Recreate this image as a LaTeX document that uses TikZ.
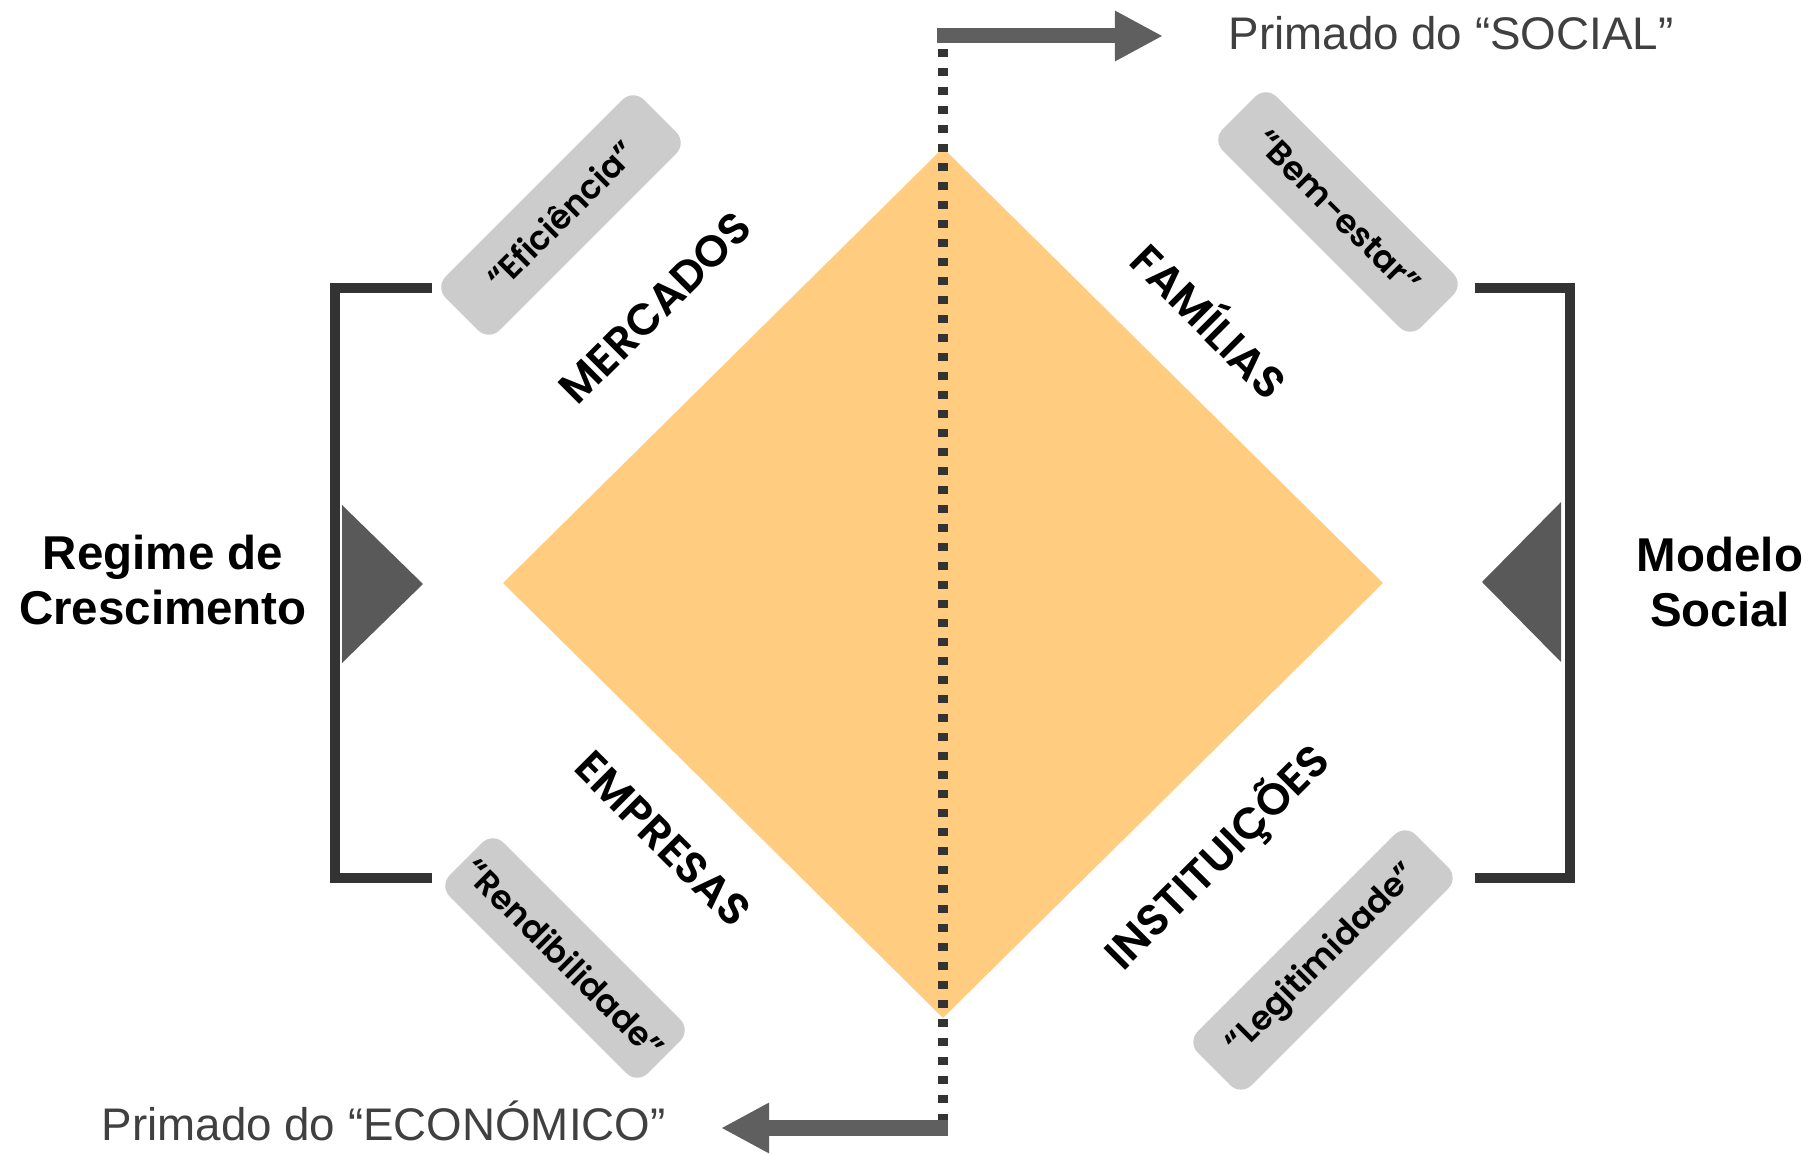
\documentclass[tikz,border=0pt]{standalone}
\usepackage{fontspec}
\setmainfont{Liberation Sans}
\newfontfamily\geo{Poppins}[BoldFont={* SemiBold}]
\usetikzlibrary{shapes.geometric,arrows.meta}
\definecolor{peach}{RGB}{255,204,128}
\definecolor{bracketgray}{RGB}{51,51,51}
\definecolor{arrowgray}{RGB}{95,95,95}
\definecolor{taggray}{RGB}{204,204,204}
\definecolor{wedgegray}{RGB}{89,89,89}
\definecolor{primgray}{RGB}{64,64,64}

\begin{document}
\begin{tikzpicture}[x=0.01cm,y=-0.01cm,
  tag/.style={rounded corners=0.15cm,fill=taggray,minimum width=2.8cm,minimum height=0.76cm,inner sep=0pt,font=\geo\bfseries\fontsize{9.5}{11}\selectfont},
  pillar/.style={font=\geo\bfseries\fontsize{12.5}{14}\selectfont},
  side/.style={font=\bfseries\fontsize{13.5}{15.5}\selectfont,align=center},
  primado/.style={font=\fontsize{13}{15}\selectfont,text=primgray,inner sep=0pt},
  bracket/.style={draw=bracketgray,line width=0.1cm},
  wedge/.style={fill=wedgegray},
  bigarrow/.style={draw=arrowgray,line width=0.15cm,-{Triangle[length=0.48cm,width=0.47cm]}}]
  \useasboundingbox (0,0) rectangle (1814,1155);
  \node[diamond,fill=peach,minimum width=8.8cm,minimum height=8.7cm,inner sep=0pt] (D) at (943,583) {};

  \coordinate (dtop) at (943,49);
  \coordinate (dbot) at (943,1120);
  \coordinate (soc) at (937,36);
  \coordinate (soctip) at (1163,36);
  \coordinate (eco) at (948,1128);
  \coordinate (ecotip) at (721,1128);
  \draw[bracketgray,line width=0.1cm,dash pattern=on 0.08cm off 0.11cm] (dtop) -- (dbot);
  \draw[bigarrow] (soc) -- (soctip);
  \draw[bigarrow] (eco) -- (ecotip);
  \node[primado,anchor=base west] (social) at (1228,50) {Primado do “SOCIAL”};
  \node[primado,anchor=base west] (economico) at (101,1140) {Primado do “ECONÓMICO”};

  \draw[bracket] (432,288) -- (335,288) -- (335,878) -- (432,878);
  \draw[bracket] (1475,288) -- (1570,288) -- (1570,878) -- (1475,878);
  \fill[wedge] (342,505) -- (423,584) -- (342,663) -- cycle;
  \fill[wedge] (1561,502) -- (1482,582) -- (1561,662) -- cycle;
  \node[side] (regime) at (163,580) {Regime de\\Crescimento};
  \node[side] (modelo) at (1720,582) {Modelo\\Social};

  \node[tag,rotate=45] (efic) at (561,215) {“Eficiência”};
  \node[tag,rotate=-45] (bem) at (1338,212) {“Bem-estar”};
  \node[tag,rotate=-45] (rend) at (565,958) {“Rendibilidade”};
  \node[tag,rotate=45,minimum width=3.08cm] (legit) at (1323,960) {“Legitimidade”};

  \node[pillar,rotate=45] (merc) at (655,308) {MERCADOS};
  \node[pillar,rotate=-45] (fam) at (1212,318) {FAMÍLIAS};
  \node[pillar,rotate=-45] (emp) at (663,839) {EMPRESAS};
  \node[pillar,rotate=45] (inst) at (1218,858) {INSTITUIÇÕES};
\end{tikzpicture}
\end{document}
